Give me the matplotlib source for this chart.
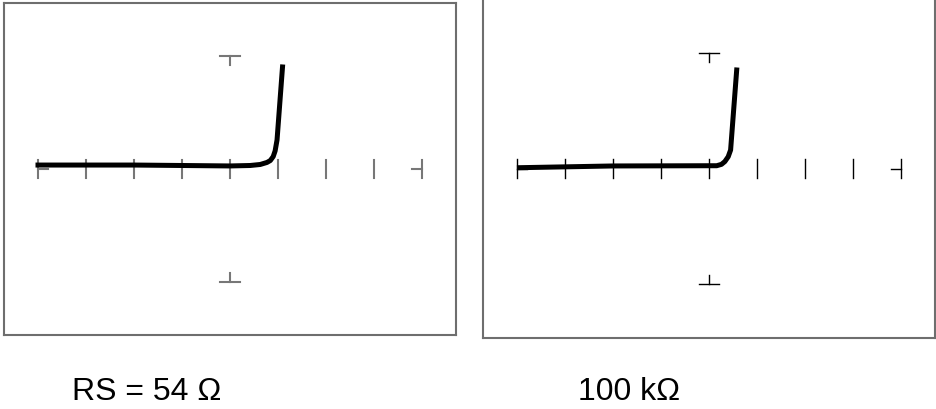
import matplotlib
matplotlib.use("Agg")
import matplotlib.pyplot as plt

W, H = 936, 409

# trace values, in screen divisions (x: -4..4, y: -1..1 = full scale)
left_x = [-4.0, -2.0, -1.0, 0.0, 0.42, 0.63, 0.77, 0.84, 0.9, 0.94, 0.98, 1.094]
left_y = [0.035, 0.035, 0.031, 0.027, 0.031, 0.040, 0.058, 0.075, 0.11, 0.16, 0.257, 0.903]

right_x = [-3.95, -2.0, 0.0, 0.16, 0.26, 0.33, 0.40, 0.45, 0.577]
right_y = [0.007, 0.022, 0.024, 0.024, 0.036, 0.06, 0.102, 0.160, 0.853]

labels = ["RS = 54 Ω", "100 kΩ"]
x_ticks = [-4, -3, -2, -1, 0, 1, 2, 3, 4]


def make_panel(fig, box, centre, scale):
    # box = (left, top, right, bottom) in pixels, centre/scale map divisions to pixels
    l, t, r, b = box
    cx, cy = centre
    sx, sy = scale
    ax = fig.add_axes([l / W, 1 - b / H, (r - l) / W, (b - t) / H])
    ax.set_xlim((l - cx) / sx, (r - cx) / sx)
    ax.set_ylim((cy - b) / sy, (cy - t) / sy)
    ax.set_xticks([])
    ax.set_yticks([])
    for s in ax.spines.values():
        s.set_color("#6e6e6e")
        s.set_linewidth(1.5)
    return ax


def draw_graticule(ax, color, lw):
    for x in x_ticks:
        ax.plot([x, x], [-0.08, 0.08], color=color, lw=lw)
    ax.plot([-4, -3.8], [0, 0], color=color, lw=lw)
    ax.plot([3.8, 4], [0, 0], color=color, lw=lw)
    for y, stem in [(1, 0.92), (-1, -0.92)]:
        ax.plot([-0.2, 0.2], [y, y], color=color, lw=lw)
        ax.plot([0, 0], [y, stem], color=color, lw=lw)


fig = plt.figure(figsize=(W / 100, H / 100), dpi=100)

ax1 = make_panel(fig, (4, 3, 456, 335), (230, 169), (48, 113))
draw_graticule(ax1, "#777777", 1.5)
ax1.plot(left_x, left_y, color="black", lw=3.6, solid_joinstyle="round")

ax2 = make_panel(fig, (483, -2, 935, 338), (709, 168.5), (48, 115.5))
draw_graticule(ax2, "black", 1.0)
ax2.plot(right_x, right_y, color="black", lw=3.6, solid_joinstyle="round")

fig.text(72 / W, 1 - 400 / H, labels[0], fontsize=23,
         family="Liberation Sans", va="baseline")
fig.text(578 / W, 1 - 400 / H, labels[1], fontsize=23,
         family="Liberation Sans", va="baseline")

fig.savefig("out.png", dpi=100)
